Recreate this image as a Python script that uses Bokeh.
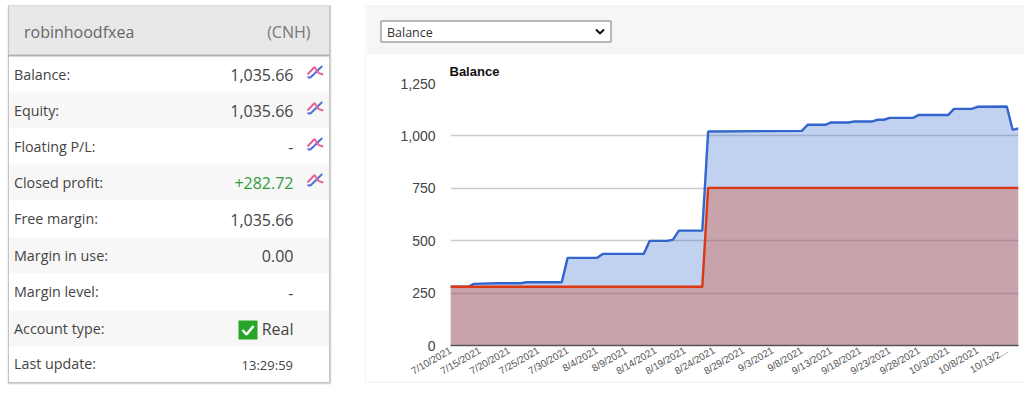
from bokeh.plotting import figure
from bokeh.layouts import row, column
from bokeh.core.properties import value
from bokeh.models import FixedTicker, NumeralTickFormatter, Range1d
from bokeh.embed import file_html
from bokeh.resources import INLINE

# ---- data ----
tick_days = [0, 5, 10, 15, 20, 25, 30, 35, 40, 45, 50, 55, 60, 65, 70, 75, 80, 85, 90, 95]
tick_labels = ["7/10/2021", "7/15/2021", "7/20/2021", "7/25/2021", "7/30/2021", "8/4/2021", "8/9/2021",
               "8/14/2021", "8/19/2021", "8/24/2021", "8/29/2021", "9/3/2021", "9/8/2021", "9/13/2021",
               "9/18/2021", "9/23/2021", "9/28/2021", "10/3/2021", "10/8/2021", "10/13/2..."]
y_ticks = [0, 250, 500, 750, 1000, 1250]
balance_days = [0, 3, 4, 8, 12, 13, 19, 20, 25, 26, 33, 34, 37, 38, 39, 43, 44, 60, 61, 64, 65, 68, 69,
                72, 73, 74, 75, 79, 80, 85, 86, 89, 90, 95, 96, 97]
balance_vals = [280, 280, 294, 297, 297, 302, 302, 418, 418, 437, 437, 499, 499, 505, 548, 548, 1021, 1024,
                1053, 1053, 1064, 1064, 1069, 1069, 1077, 1077, 1086, 1086, 1100, 1100, 1129, 1129, 1139,
                1140, 1029, 1035.66]
deposit_days = [0, 43, 44, 97]
deposit_vals = [280, 280, 752, 752]

account_name = "robinhoodfxea"
account_ccy = "(CNH)"
row_labels = ["Balance:", "Equity:", "Floating P/L:", "Closed profit:", "Free margin:",
              "Margin in use:", "Margin level:", "Account type:", "Last update:"]
row_values = ["1,035.66", "1,035.66", "-", "+282.72", "1,035.66", "0.00", "-", "Real", "13:29:59"]
chart_title = "Balance"
select_text = "Balance"


def sheet(x0, x1, y0, y1, **kw):
    """A blank figure whose data space is the page's pixels."""
    f = figure(width=x1 - x0, height=y1 - y0, output_backend="svg", toolbar_location=None,
               x_range=Range1d(x0, x1), y_range=Range1d(y1, y0), frame_align=False,
               min_border=0, min_border_left=0, min_border_right=0, min_border_top=0, min_border_bottom=0, **kw)
    f.axis.visible = False
    f.grid.visible = False
    f.outline_line_color = None
    f.background_fill_color = "white"
    f.border_fill_color = "white"
    return f


def box(f, l, t, r, b, fill, line=None):
    f.quad(left=[l], right=[r], top=[t], bottom=[b], fill_color=fill, line_color=line)


def text(f, x, y, s, size=14, color="#444444", align="left", font="Open Sans"):
    f.text([x], [y], text=[s], text_font=value(font), text_font_size=f"{size}px", text_color=color,
           text_align=align, text_baseline="middle")


def stroke(f, pts, color, lw=1.6):
    f.line([a for a, _ in pts], [b for _, b in pts], line_color=color, line_width=lw)


# ---- left panel ----
left = sheet(0, 366, 0, 394)
box(left, 7, 5, 331, 384, "#e8e8e8")
box(left, 7.5, 5, 330, 383, "#c4c4c4")
box(left, 8.5, 6, 328.5, 381.5, "white")
box(left, 8.5, 6, 328.5, 54, "#e8e8e8")
box(left, 7.5, 54, 328.5, 56, "#b0b0b0")
text(left, 23.5, 31, account_name, 16, "#666666")
text(left, 310, 31, account_ccy, 16, "#777777", "right")
row_tops = [56, 92, 128, 164, 200, 237, 273, 310, 346, 381.5]
for i, (lab, val) in enumerate(zip(row_labels, row_values)):
    t, b = row_tops[i], row_tops[i + 1]
    if i % 2:
        box(left, 8.5, t, 328.5, b, "#f7f7f7")
    c = (t + b) / 2
    text(left, 13.5, c - 0.5, lab, 14.3, "#444444")
    col = "#2e9e3a" if val.startswith("+") else "#444444"
    size = 13 if ":" in val else 16
    text(left, 293 - (0.5 if ":" in val else 0), c + 0.5, val, size, col, "right")
    if i < 4:
        d = c - 74
        stroke(left, [(307, 76.7 + d), (310, 77 + d), (321.7, 65.5 + d)], "#4a6fd8", 1.9)
        stroke(left, [(307, 74 + d), (314, 66.5 + d), (318.3, 72.7 + d), (322.7, 74 + d)], "#e8609a", 1.9)
box(left, 238, 320, 257, 339, "#28a428")
stroke(left, [(242, 329.5), (246, 334), (253, 325.5)], "white", 2.6)
box(left, 365, 5, 366, 382, "#ececec")

# ---- right card header ----
head = sheet(366, 1024, 0, 54)
box(head, 366, 5, 1024, 6, "#ececec")
box(head, 366, 6, 1024, 53, "#f6f6f6")
box(head, 366, 53, 1024, 54, "#ebebeb")
box(head, 380.5, 20.5, 610.5, 41.5, "white", "#767676")
text(head, 386.5, 32, select_text, 12.5, "#333333")
stroke(head, [(595.5, 29), (599.5, 33), (603.5, 29)], "#111111", 2)

# ---- chart ----
p = figure(width=658, height=332, output_backend="svg", toolbar_location=None,
           x_range=Range1d(0, 97), y_range=Range1d(0, 1250), frame_align=False,
           min_border_left=84, min_border_right=6, min_border_top=29, min_border_bottom=41)
p.outline_line_color = None
p.background_fill_color = "white"
p.border_fill_color = "white"

p.title.text = chart_title
p.title.text_font = "Liberation Sans"
p.title.text_font_size = "13px"
p.title.text_font_style = "bold"
p.title.text_color = "#111111"
p.title.align = "left"
p.title.offset = -1
p.title.standoff = 9

p.xgrid.visible = False
p.ygrid.ticker = FixedTicker(ticks=y_ticks)
p.ygrid.grid_line_color = "#cccccc"
p.ygrid.grid_line_width = 1.5

p.yaxis.ticker = FixedTicker(ticks=y_ticks)
p.yaxis.formatter = NumeralTickFormatter(format="0,0")
p.yaxis.axis_line_color = None
p.yaxis.major_tick_line_color = None
p.yaxis.minor_tick_line_color = None
p.yaxis.major_tick_out = 0
p.yaxis.major_tick_in = 0
p.yaxis.major_label_text_font = "Liberation Sans"
p.yaxis.major_label_text_font_size = "14px"
p.yaxis.major_label_text_color = "#444444"
p.yaxis.major_label_standoff = 15

p.xaxis.ticker = FixedTicker(ticks=tick_days)
p.xaxis.major_label_overrides = dict(zip(tick_days, tick_labels))
p.xaxis.major_label_orientation = 0.524
p.xaxis.axis_line_color = "#555555"
p.xaxis.axis_line_width = 1.5
p.xaxis.major_tick_line_color = None
p.xaxis.minor_tick_line_color = None
p.xaxis.major_tick_out = 0
p.xaxis.major_tick_in = 0
p.xaxis.major_label_text_font = "Liberation Sans"
p.xaxis.major_label_text_font_size = "10px"
p.xaxis.major_label_text_color = "#555555"
p.xaxis.major_label_standoff = 4

p.varea(balance_days, [0] * len(balance_days), balance_vals, fill_color="#3366cc", fill_alpha=0.3)
p.varea(deposit_days, [0] * len(deposit_days), deposit_vals, fill_color="#dc3912", fill_alpha=0.3)
p.line(balance_days, balance_vals, line_color="#3366cc", line_width=2.4)
p.line(deposit_days, deposit_vals, line_color="#dc3912", line_width=2.4)

# ---- strip under the card, laid over the chart's empty lower edge ----
foot = sheet(366, 1024, 381, 394, margin=(-5, 0, 0, 0))
box(foot, 366, 381, 1024, 382, "#ececec")

page = row(left, column(head, p, foot, spacing=0), spacing=0)
open("out.html", "w").write(file_html(page, INLINE))
